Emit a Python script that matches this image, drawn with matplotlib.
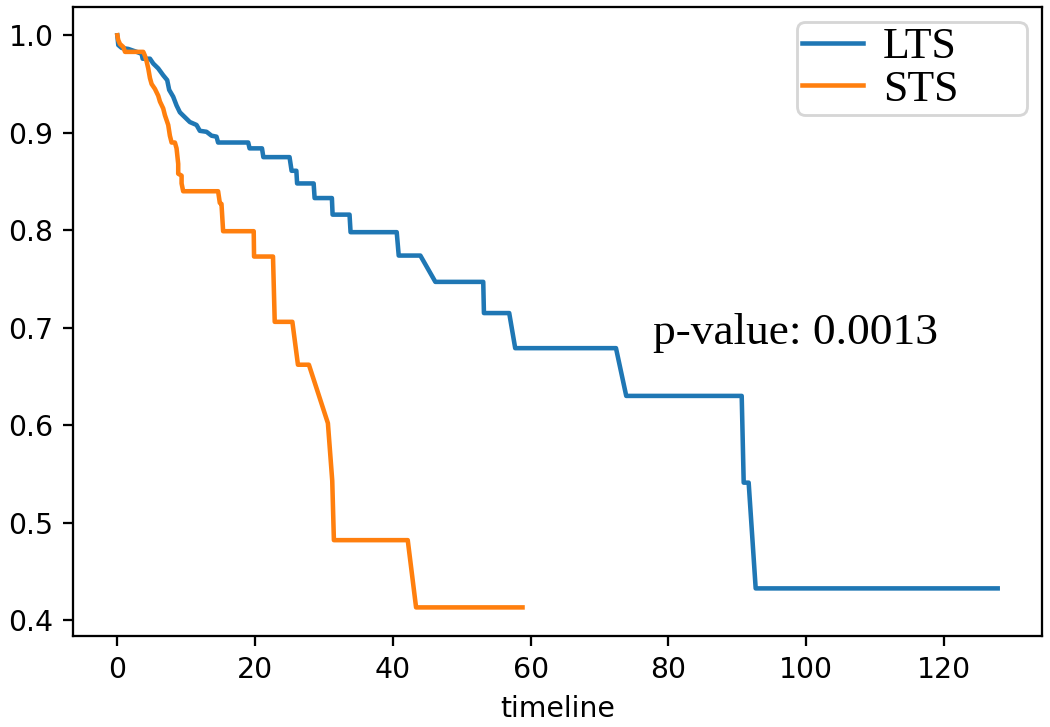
import matplotlib
matplotlib.use("Agg")
import matplotlib.pyplot as plt

# Kaplan-Meier curves (observation times and survival probabilities)
lts_time = [0, 0.14, 0.64, 1.59, 2.81, 3.53, 3.68, 4.74, 5.22, 5.94, 6.66, 7.24, 7.53,
            8.11, 8.60, 9.08, 9.80, 10.53, 11.50, 11.98, 12.95, 13.68, 14.40, 14.63,
            19.0, 19.2, 21.0, 21.2, 25.0, 25.3, 25.99, 26.10, 28.50, 28.64, 31.15, 31.25,
            33.71, 33.86, 40.56, 40.85, 43.99, 46.17, 53.12, 53.22, 56.89, 57.76,
            72.39, 73.88, 90.64, 90.93, 91.65, 92.67, 127.8]
lts_surv = [1.0, 0.990, 0.987, 0.986, 0.983, 0.981, 0.976, 0.976, 0.971, 0.966, 0.959, 0.954, 0.944,
            0.937, 0.928, 0.921, 0.916, 0.911, 0.908, 0.902, 0.901, 0.897, 0.896, 0.890,
            0.890, 0.884, 0.884, 0.875, 0.875, 0.861, 0.861, 0.848, 0.848, 0.833, 0.833, 0.816,
            0.816, 0.798, 0.798, 0.774, 0.774, 0.747, 0.747, 0.715, 0.715, 0.679,
            0.679, 0.630, 0.630, 0.541, 0.541, 0.4325, 0.4325]

sts_time = [0, 0.14, 0.39, 0.87, 1.12, 3.77, 4.01, 4.26, 4.49, 4.74, 4.98, 5.46, 5.94,
            6.19, 6.66, 6.91, 7.39, 7.63, 7.88, 8.36, 8.60, 8.84, 8.84, 9.33, 9.33, 9.56,
            14.63, 14.88, 15.12, 15.36, 19.80, 19.85, 22.60, 22.85, 25.41, 26.22, 27.81,
            30.57, 31.20, 31.44, 42.16, 43.37, 58.82]
sts_surv = [1.0, 0.995, 0.991, 0.988, 0.983, 0.983, 0.979, 0.973, 0.966, 0.956, 0.950, 0.945, 0.938,
            0.932, 0.925, 0.918, 0.908, 0.897, 0.890, 0.890, 0.884, 0.868, 0.858, 0.856, 0.848, 0.840,
            0.840, 0.828, 0.827, 0.799, 0.799, 0.773, 0.773, 0.706, 0.706, 0.662, 0.662,
            0.602, 0.543, 0.482, 0.482, 0.413, 0.413]

labels = ["LTS", "STS"]
p_text = "p-value: 0.0013"

fig = plt.figure(figsize=(1050 / 204, 727 / 204), dpi=204)
ax = fig.add_axes([73.3 / 1050, 1 - 636 / 727, (1041.7 - 73.3) / 1050, (636 - 6.7) / 727])

ax.plot(lts_time, lts_surv, color="#1f77b4", lw=1.6, label=labels[0])
ax.plot(sts_time, sts_surv, color="#ff7f0e", lw=1.6, label=labels[1])

ax.set_xlabel("timeline")
ax.set_xticks([0, 20, 40, 60, 80, 100, 120])
ax.set_yticks([0.4, 0.5, 0.6, 0.7, 0.8, 0.9, 1.0])

leg = ax.legend(loc="upper left", bbox_to_anchor=(0.7469, 0.0, 0.2380, 0.9762),
                mode="expand", borderaxespad=0,
                prop={"family": "Liberation Serif", "size": 15.5},
                labelspacing=0.06, borderpad=0.12, handlelength=1.4,
                handletextpad=0.45)

ax.text(77.8, 0.683, p_text, fontfamily="Liberation Serif", fontsize=16, va="baseline")

fig.savefig("out.png", dpi=204)
